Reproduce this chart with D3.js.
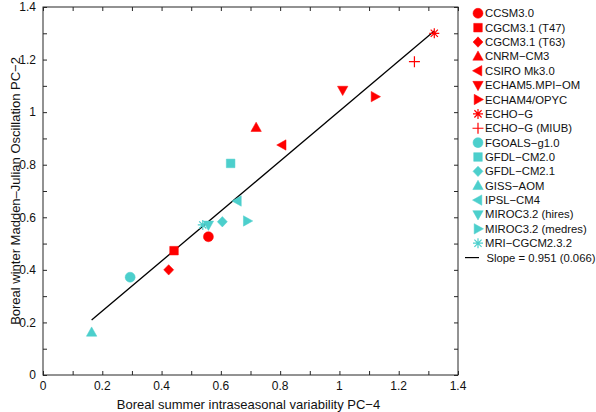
<!DOCTYPE html>
<html>
<head>
<meta charset="utf-8">
<script src="https://cdn.jsdelivr.net/npm/d3@7"></script>
<style>
  html, body { margin: 0; padding: 0; background: #fff; }
  svg { display: block; font-family: "Liberation Sans", Arial, Helvetica, sans-serif; }
</style>
</head>
<body>
<svg id="chart" width="596" height="412"></svg>
<script>
// ---- data ----
const models = ["CCSM3.0", "CGCM3.1 (T47)", "CGCM3.1 (T63)", "CNRM-CM3", "CSIRO Mk3.0",
  "ECHAM5.MPI-OM", "ECHAM4/OPYC", "ECHO-G", "ECHO-G (MIUB)", "FGOALS-g1.0",
  "GFDL-CM2.0", "GFDL-CM2.1", "GISS-AOM", "IPSL-CM4", "MIROC3.2 (hires)",
  "MIROC3.2 (medres)", "MRI-CGCM2.3.2"];
const legendLabels = ["CCSM3.0", "CGCM3.1 (T47)", "CGCM3.1 (T63)", "CNRM\u2212CM3", "CSIRO Mk3.0",
  "ECHAM5.MPI\u2212OM", "ECHAM4/OPYC", "ECHO\u2212G", "ECHO\u2212G (MIUB)", "FGOALS\u2212g1.0",
  "GFDL\u2212CM2.0", "GFDL\u2212CM2.1", "GISS\u2212AOM", "IPSL\u2212CM4", "MIROC3.2 (hires)",
  "MIROC3.2 (medres)", "MRI\u2212CGCM2.3.2"];
const summerPC4 = [0.558, 0.442, 0.424, 0.719, 0.807, 1.011, 1.12, 1.32, 1.253, 0.294,
  0.633, 0.605, 0.164, 0.656, 0.558, 0.689, 0.539];
const winterPC2 = [0.526, 0.473, 0.400, 0.941, 0.875, 1.084, 1.059, 1.30, 1.192, 0.372,
  0.805, 0.583, 0.162, 0.662, 0.571, 0.586, 0.571];
const markerTypes = ["circle", "square", "diamond", "up", "left", "down", "right", "asterisk", "plus",
  "circle", "square", "diamond", "up", "left", "down", "right", "asterisk"];
const groups = ["red", "red", "red", "red", "red", "red", "red", "red", "red",
  "cyan", "cyan", "cyan", "cyan", "cyan", "cyan", "cyan", "cyan"];
const fitSlope = 0.951;
const fitIntercept = 0.053;
const fitLabel = "Slope = 0.951 (0.066)";
const xTicks = [0, 0.2, 0.4, 0.6, 0.8, 1, 1.2, 1.4];
const yTicks = [0, 0.2, 0.4, 0.6, 0.8, 1, 1.2, 1.4];
const xTitle = "Boreal summer intraseasonal variability PC\u22124";
const yTitle = "Boreal winter Madden\u2013Julian Oscillation PC\u22122";

// ---- layout ----
const colors = { red: "#ff0000", cyan: "#4ccfcc" };
const plot = { left: 43, right: 458, top: 7, bottom: 375 };
const svg = d3.select("#chart");
const x = d3.scaleLinear().domain([0, 1.4]).range([plot.left, plot.right]);
const y = d3.scaleLinear().domain([0, 1.4]).range([plot.bottom, plot.top]);
const axisColor = "#262626";
const tickFs = 12, titleFs = 13, legendFs = 11.3;

function markerPath(type) {
  const p = d3.path();
  switch (type) {
    case "circle": p.arc(0, 0, 5, 0, 2 * Math.PI); break;
    case "square": p.rect(-4.3, -4.3, 8.6, 8.6); break;
    case "diamond": p.moveTo(0, -5.2); p.lineTo(5, 0); p.lineTo(0, 5.2); p.lineTo(-5, 0); p.closePath(); break;
    case "up": p.moveTo(0, -5.5); p.lineTo(5.2, 3.8); p.lineTo(-5.2, 3.8); p.closePath(); break;
    case "down": p.moveTo(0, 5.5); p.lineTo(5.2, -3.8); p.lineTo(-5.2, -3.8); p.closePath(); break;
    case "left": p.moveTo(-5.5, 0); p.lineTo(3.8, -5.2); p.lineTo(3.8, 5.2); p.closePath(); break;
    case "right": p.moveTo(5.5, 0); p.lineTo(-3.8, -5.2); p.lineTo(-3.8, 5.2); p.closePath(); break;
    case "plus": p.moveTo(-5.5, 0); p.lineTo(5.5, 0); p.moveTo(0, -5.5); p.lineTo(0, 5.5); break;
    case "asterisk":
      p.moveTo(-5, 0); p.lineTo(5, 0); p.moveTo(0, -5); p.lineTo(0, 5);
      p.moveTo(-3.6, -3.6); p.lineTo(3.6, 3.6); p.moveTo(-3.6, 3.6); p.lineTo(3.6, -3.6); break;
  }
  return p.toString();
}
const isLine = t => t === "plus" || t === "asterisk";
function styleMarker(sel) {
  sel.attr("d", (d) => markerPath(d.type))
    .attr("fill", d => isLine(d.type) ? "none" : colors[d.group])
    .attr("stroke", d => colors[d.group])
    .attr("stroke-width", d => isLine(d.type) ? 1.2 : 0.5);
}

const data = models.map((m, i) => ({ name: m, label: legendLabels[i], x: summerPC4[i], y: winterPC2[i], type: markerTypes[i], group: groups[i] }));

// ---- axes ----
const minor = d3.range(0, 1.401, 0.1);
const g = svg.append("g");
g.append("rect").attr("x", plot.left).attr("y", plot.top)
  .attr("width", plot.right - plot.left).attr("height", plot.bottom - plot.top)
  .attr("fill", "none").attr("stroke", axisColor).attr("stroke-width", 1);

const xAxisB = d3.axisBottom(x).tickValues(minor).tickSize(-4).tickFormat("");
const xAxisT = d3.axisTop(x).tickValues(minor).tickSize(-4).tickFormat("");
const yAxisL = d3.axisLeft(y).tickValues(minor).tickSize(-4).tickFormat("");
const yAxisR = d3.axisRight(y).tickValues(minor).tickSize(-4).tickFormat("");
function tidy(sel) { sel.select(".domain").remove(); sel.selectAll("line").attr("stroke", axisColor); }
g.append("g").attr("transform", `translate(0,${plot.bottom})`).call(xAxisB).call(tidy);
g.append("g").attr("transform", `translate(0,${plot.top})`).call(xAxisT).call(tidy);
g.append("g").attr("transform", `translate(${plot.left},0)`).call(yAxisL).call(tidy);
g.append("g").attr("transform", `translate(${plot.right},0)`).call(yAxisR).call(tidy);

// tick labels
const fmt = v => (v === 0 ? "0" : v === 1 ? "1" : d3.format(".1f")(v));
g.selectAll(".xlab").data(xTicks).join("text")
  .attr("x", d => x(d)).attr("y", 390).attr("text-anchor", "middle")
  .attr("font-size", tickFs).attr("fill", "#111").text(fmt);
g.selectAll(".ylab").data(yTicks).join("text")
  .attr("x", 36).attr("y", d => y(d) + 4.3).attr("text-anchor", "end")
  .attr("font-size", tickFs).attr("fill", "#111").text(fmt);

// titles
svg.append("text").attr("x", (plot.left + plot.right) / 2 - 2).attr("y", 408.5)
  .attr("text-anchor", "middle").attr("font-size", titleFs).attr("fill", "#111").text(xTitle);
svg.append("text").attr("transform", `translate(19.5,${(plot.top + plot.bottom) / 2}) rotate(-90)`)
  .attr("text-anchor", "middle").attr("font-size", titleFs).attr("fill", "#111").text(yTitle);

// ---- fit line ----
const xr = d3.extent(summerPC4);
svg.append("line")
  .attr("x1", x(xr[0])).attr("y1", y(fitIntercept + fitSlope * xr[0]))
  .attr("x2", x(xr[1])).attr("y2", y(fitIntercept + fitSlope * xr[1]))
  .attr("stroke", "#000").attr("stroke-width", 1.3);

// ---- points ----
svg.append("g").selectAll("path").data(data).join("path")
  .attr("transform", d => `translate(${x(d.x)},${y(d.y)})`)
  .call(styleMarker);

// ---- legend ----
const lg = svg.append("g");
const ly0 = 13.3, lstep = 14.37, lmx = 478, ltx = 485;
const items = lg.selectAll("g").data(data).join("g")
  .attr("transform", (d, i) => `translate(0,${ly0 + i * lstep})`);
items.append("path").attr("transform", `translate(${lmx},0)`).call(styleMarker);
items.append("text").attr("x", ltx).attr("y", 4).attr("font-size", legendFs).attr("fill", "#111").text(d => d.label);
const fy = ly0 + data.length * lstep;
lg.append("line").attr("x1", 465).attr("x2", 479).attr("y1", fy).attr("y2", fy).attr("stroke", "#000").attr("stroke-width", 1.2);
lg.append("text").attr("x", ltx + 1.5).attr("y", fy + 4).attr("font-size", legendFs).attr("fill", "#111").text(fitLabel);
</script>
</body>
</html>
